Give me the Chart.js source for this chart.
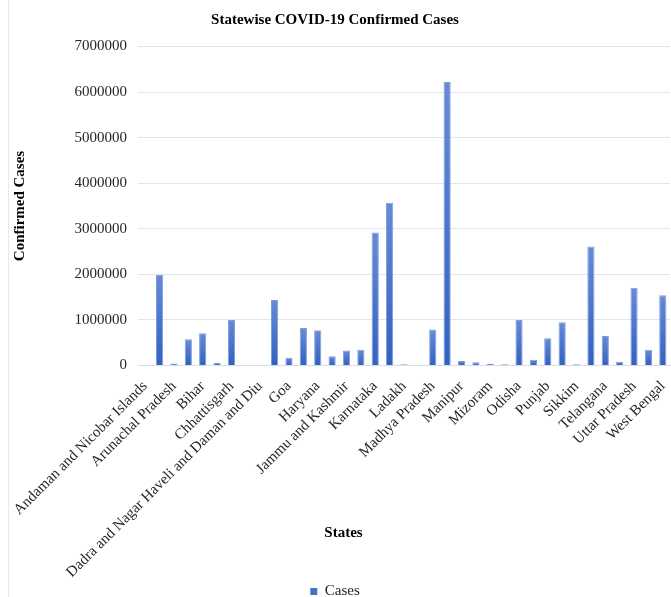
<!DOCTYPE html>
<html>
<head>
<meta charset="utf-8">
<script src="https://cdn.jsdelivr.net/npm/chart.js@4/dist/chart.umd.min.js"></script>
<style>
  body { margin: 0; background: #fff; overflow: hidden; }
  #wrap { position: relative; width: 671px; height: 609px; }
  #edge { position: absolute; left: 8px; top: 0; width: 1px; height: 597px; background: #e6e9ef; }
</style>
</head>
<body>
<div id="wrap">
  <div id="edge"></div>
  <canvas id="CasesChart"></canvas>
</div>
<script>
const states = [
  "Andaman and Nicobar Islands", "Andhra Pradesh", "Arunachal Pradesh", "Assam", "Bihar",
  "Chandigarh", "Chhattisgarh", "Dadra and Nagar Haveli", "Dadra and Nagar Haveli and Daman and Diu",
  "Delhi", "Goa", "Gujarat", "Haryana", "Himachal Pradesh", "Jammu and Kashmir", "Jharkhand",
  "Karnataka", "Kerala", "Ladakh", "Lakshadweep", "Madhya Pradesh", "Maharashtra", "Manipur",
  "Meghalaya", "Mizoram", "Nagaland", "Odisha", "Puducherry", "Punjab", "Rajasthan", "Sikkim",
  "Tamil Nadu", "Telangana", "Tripura", "Uttar Pradesh", "Uttarakhand", "West Bengal"
];

const cases = [
  7500, 1990000, 45000, 575000, 710000,
  55000, 1000000, 0, 10600,
  1435000, 172000, 822000, 775000, 205000, 328000, 345000,
  2920000, 3570000, 25000, 10000, 790000, 6220000, 100000,
  70000, 40000, 30000, 1000000, 125000, 600000, 950000, 30000,
  2610000, 650000, 80000, 1705000, 345000, 1540000
];

const yMax = 7000000;
const yStep = 1000000;

const serif = '"Liberation Serif", "Times New Roman", serif';
const barBlue = "#4472c4";

// "States" sits inside the label band in the original, so draw it by hand
const statesTitle = {
  id: "statesTitle",
  afterDraw(chart) {
    const ctx = chart.ctx;
    ctx.save();
    ctx.font = "bold 15px " + serif;
    ctx.fillStyle = "#000";
    ctx.textAlign = "center";
    ctx.textBaseline = "middle";
    ctx.fillText("States", chart.width / 2 + 8, chart.chartArea.bottom + 167.5);
    ctx.restore();
  },
};

// each bar: lighter at the top, darker at the base
function barFill(c) {
  const chart = c.chart;
  const y = chart.scales && chart.scales.y;
  if (!y || c.raw == null) return barBlue;
  const top = y.getPixelForValue(c.raw);
  const base = y.getPixelForValue(0);
  if (!isFinite(top) || base - top < 1) return "#6f8fd8";
  const g = chart.ctx.createLinearGradient(0, top, 0, base);
  g.addColorStop(0, "#678ad6");
  g.addColorStop(1, "#3161c2");
  return g;
}

const ctx = document.getElementById("CasesChart").getContext("2d");
new Chart(ctx, {
  type: "bar",
  data: {
    labels: states,
    datasets: [
      {
        label: "Cases",
        data: cases,
        backgroundColor: barFill,
        borderColor: "#7f9cdd",
        borderWidth: 1,
        borderSkipped: "bottom",
        categoryPercentage: 1,
        barPercentage: 0.5,
      },
    ],
  },
  options: {
    responsive: true,
    maintainAspectRatio: false,
    animation: false,
    layout: { padding: { left: 0, right: 1, top: 0, bottom: 0 } },
    plugins: {
      title: {
        display: true,
        text: "Statewise COVID-19 Confirmed Cases",
        color: "#000",
        font: { family: serif, size: 15, weight: "bold" },
        padding: { top: 11, bottom: 17.5 },
      },
      legend: {
        position: "bottom",
        labels: {
          boxWidth: 7,
          boxHeight: 7,
          padding: 4,
          color: "#262626",
          font: { family: serif, size: 15 },
          generateLabels(chart) {
            const items = Chart.defaults.plugins.legend.labels.generateLabels(chart);
            items.forEach((it) => {
              it.fillStyle = barBlue;
              it.strokeStyle = barBlue;
              it.lineWidth = 0;
            });
            return items;
          },
        },
      },
      tooltip: { enabled: false },
    },
    scales: {
      x: {
        grid: { display: false },
        border: { color: "#d9dde5" },
        ticks: {
          autoSkip: false,
          maxRotation: 45,
          minRotation: 45,
          padding: 4,
          color: "#262626",
          font: { family: serif, size: 15 },
          callback: function (value, index) {
            return index % 2 === 0 ? this.getLabelForValue(value) : "";
          },
        },
        afterFit(scale) {
          scale.height = 214.5;
          scale.paddingLeft = 0;
          scale.paddingRight = 0;
        },
      },
      y: {
        min: 0,
        max: yMax,
        grid: { color: "#e1e5ec", drawTicks: false },
        border: { display: false },
        ticks: {
          stepSize: yStep,
          padding: 11,
          color: "#262626",
          font: { family: serif, size: 15 },
          callback: (v) => String(v),
        },
        title: {
          display: true,
          text: "Confirmed Cases",
          color: "#000",
          font: { family: serif, size: 15, weight: "bold" },
          padding: { top: 11, bottom: 0 },
        },
        afterFit(scale) {
          scale.width = 138;
        },
      },
    },
  },
  plugins: [statesTitle],
});
</script>
</body>
</html>
